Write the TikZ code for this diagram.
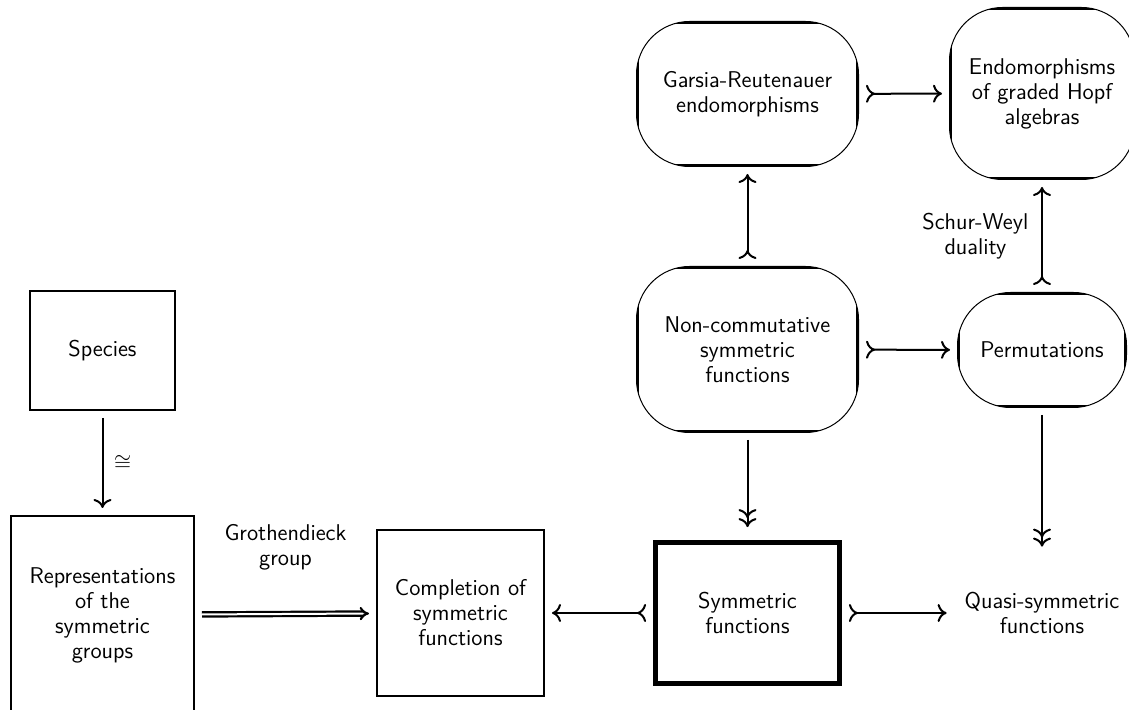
\documentclass[tikz,border=0pt]{standalone}
\usepackage{tikz}
\usetikzlibrary{arrows.meta}
\tikzstyle{box} = [draw, rectangle, line width=1pt, align=center]
\tikzstyle{mainbox} = [box, line width=2.4pt]
\tikzstyle{roundbox} = [draw, rectangle, rounded corners=26.5pt, line width=0.5pt, align=center,
  path picture={\draw[line width=2.4pt, sharp corners] (path picture bounding box.south west) rectangle (path picture bounding box.north east);}]
\tikzstyle{plain} = [align=center]
\tikzstyle{arr} = [line width=1pt, shorten <=3.5pt, shorten >=3.5pt, -{Computer Modern Rightarrow[length=4.5pt,width=9pt]}]
\tikzstyle{mono} = [arr, {Computer Modern Rightarrow[reversed,length=4.5pt,width=9pt]}-{Computer Modern Rightarrow[length=4.5pt,width=9pt]}]
\tikzstyle{epi} = [arr, shorten >=6.5pt, -{Computer Modern Rightarrow[length=4.5pt,width=9pt]Computer Modern Rightarrow[length=4.5pt,width=9pt]}]
\tikzstyle{implies} = [line width=1.1pt, double, double distance=1pt, shorten <=3.5pt, shorten >=3.5pt, -{Implies}]

\begin{document}
\begin{tikzpicture}[x=0.5pt, y=-0.5pt, font=\sffamily\fontsize{11.4}{12.5}\selectfont]
    \useasboundingbox (0,0) rectangle (1129,710);

    \node[box, minimum width=72.5pt, minimum height=59.5pt] (species) at (102.5,350.5) {Species};
    \node[box, minimum width=91.5pt, minimum height=99pt] (reps) at (102.5,615) {Representations\\of the\\symmetric\\groups};
    \node[box, minimum width=83.5pt, minimum height=83pt] (completion) at (460.5,613) {Completion of\\symmetric\\functions};
    \node[mainbox, minimum width=92pt, minimum height=70.5pt] (sym) at (747.5,613) {Symmetric\\functions};
    \node[plain, minimum width=88pt, minimum height=53pt] (quasi) at (1042,613) {Quasi-symmetric\\functions};
    \node[roundbox, minimum width=111pt, minimum height=72.5pt] (garsia) at (747.5,94) {Garsia-Reutenauer\\endomorphisms};
    \node[roundbox, minimum width=111pt, minimum height=83pt] (nc) at (747.5,349.5) {Non-commutative\\symmetric\\functions};
    \node[roundbox, minimum width=92.5pt, minimum height=86pt] (endo) at (1042,93.5) {Endomorphisms\\of graded Hopf\\algebras};
    \node[roundbox, minimum width=84.5pt, minimum height=57.5pt] (perm) at (1042,350) {Permutations};

    \draw[arr] (species) -- node[right=2pt] {$\cong$} (reps);
    \draw[implies] (reps) -- node[above=18pt, align=center] {Grothendieck\\group} (completion);
    \draw[mono] (sym) -- (completion);
    \draw[mono] (sym) -- (quasi);
    \draw[epi] (nc) -- (sym);
    \draw[epi] (perm) -- (quasi);
    \draw[mono] (nc) -- (garsia);
    \draw[mono] (nc) -- (perm);
    \draw[mono] (garsia) -- (endo);
    \draw[mono] (perm) -- node[left=3pt, align=center] {Schur-Weyl\\duality} (endo);
\end{tikzpicture}
\end{document}
